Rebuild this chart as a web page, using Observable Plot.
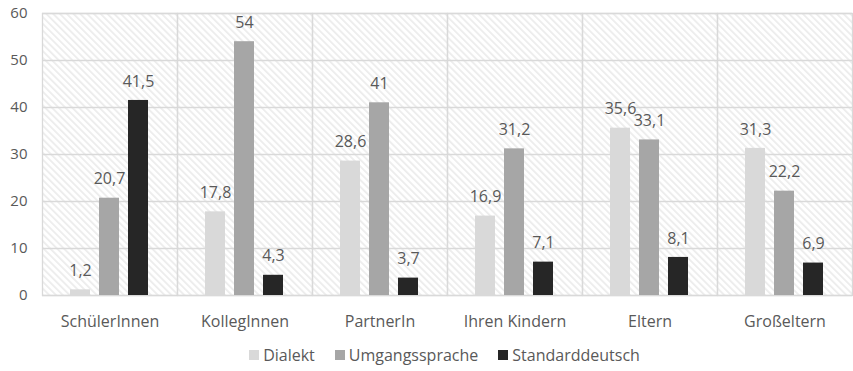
<!DOCTYPE html>
<html>
<head>
<meta charset="utf-8">
<script src="https://cdn.jsdelivr.net/npm/d3@7"></script>
<script src="https://cdn.jsdelivr.net/npm/@observablehq/plot@0.6"></script>
<style>
  html, body { margin: 0; padding: 0; background: #fff; }
  body { width: 853px; font-family: "Open Sans", sans-serif; }
  #legend { display: flex; justify-content: center; gap: 20px; font-size: 16px; color: #595959; margin-top: 9px; padding-left: 36px; }
  #legend .item { display: flex; align-items: center; gap: 4px; }
  #legend .sw { width: 10px; height: 10px; display: inline-block; }
</style>
</head>
<body>
<div id="chart"></div>
<div id="legend"></div>
<script>
const categories = ["SchülerInnen", "KollegInnen", "PartnerIn", "Ihren Kindern", "Eltern", "Großeltern"];
const seriesNames = ["Dialekt", "Umgangssprache", "Standarddeutsch"];
const dialekt = [1.2, 17.8, 28.6, 16.9, 35.6, 31.3];
const umgangssprache = [20.7, 54, 41, 31.2, 33.1, 22.2];
const standarddeutsch = [41.5, 4.3, 3.7, 7.1, 8.1, 6.9];
const yTicks = [0, 10, 20, 30, 40, 50, 60];
const colors = ["#d9d9d9", "#a6a6a6", "#262626"];

const seriesValues = [dialekt, umgangssprache, standarddeutsch];
const rows = [];
categories.forEach((c, i) => {
  seriesNames.forEach((s, j) => rows.push({category: c, series: s, value: seriesValues[j][i]}));
});
const fmt = v => String(v).replace(".", ",");

const chart = Plot.plot({
  width: 853,
  height: 335,
  marginTop: 13,
  marginBottom: 40,
  marginLeft: 42,
  marginRight: 1,
  style: {fontFamily: "'Open Sans', sans-serif", fontSize: "15px", color: "#595959", background: "#fff"},
  fx: {domain: categories, padding: 0, label: null},
  x: {domain: seriesNames, paddingInner: 0.3, paddingOuter: 0.908, axis: null},
  y: {domain: [0, 60], label: null},
  color: {domain: seriesNames, range: colors},
  marks: [
    Plot.frame({fill: "url(#hatchbg)", stroke: "none"}),
    Plot.gridY(yTicks, {stroke: "#d9d9d9", strokeOpacity: 1, strokeWidth: 1.3}),
    Plot.frame({stroke: "#d9d9d9", strokeOpacity: 1, strokeWidth: 1.3}),
    Plot.barY(rows, {fx: "category", x: "series", y: "value", fill: "series"}),
    Plot.text(rows, {fx: "category", x: "series", y: "value", text: d => fmt(d.value), dy: -19, fill: "#595959", fontSize: 16}),
    Plot.axisY(yTicks, {tickSize: 0, tickPadding: 15, fontSize: 15, fill: "#595959"}),
    Plot.axisFx({anchor: "bottom", tickSize: 0, tickPadding: 20, fontSize: 16, fill: "#595959", label: null})
  ]
});

const ns = "http://www.w3.org/2000/svg";
const defs = document.createElementNS(ns, "defs");
defs.innerHTML = `<pattern id="hatchbg" patternUnits="userSpaceOnUse" width="4.8" height="4.8" patternTransform="rotate(45)">
  <rect width="4.8" height="4.8" fill="#ffffff"/>
  <line x1="0" y1="1" x2="4.8" y2="1" stroke="#dedede" stroke-width="1"/>
</pattern>`;
chart.insertBefore(defs, chart.firstChild);
document.getElementById("chart").appendChild(chart);

const legend = document.getElementById("legend");
seriesNames.forEach((s, i) => {
  const item = document.createElement("span");
  item.className = "item";
  item.innerHTML = `<span class="sw" style="background:${colors[i]}"></span><span>${s}</span>`;
  legend.appendChild(item);
});
</script>
</body>
</html>
